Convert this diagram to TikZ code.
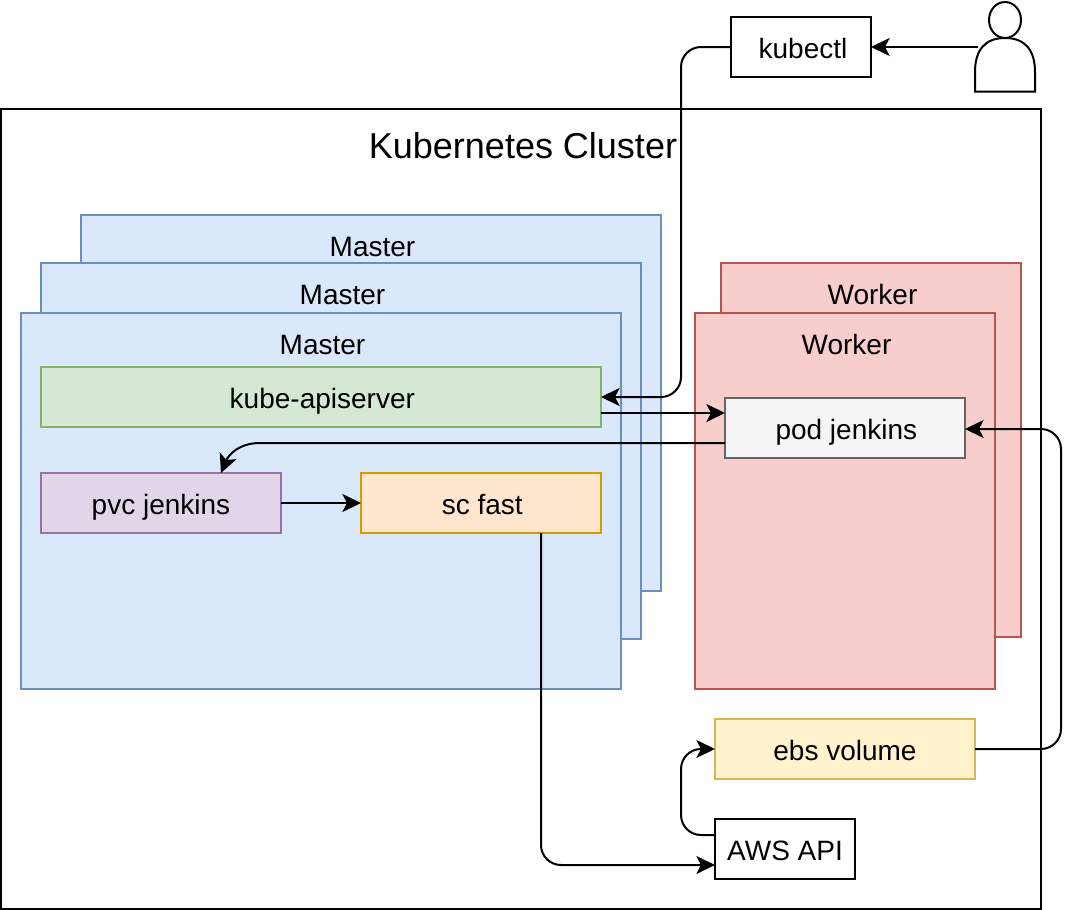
\documentclass[tikz,border=0pt]{standalone}
\usepackage{fontspec}
\setmainfont{Liberation Sans}
\usetikzlibrary{arrows.meta,calc,shapes.geometric}
\definecolor{blueF}{HTML}{DAE8FC}\definecolor{blueD}{HTML}{6C8EBF}
\definecolor{redF}{HTML}{F8CECC}\definecolor{redD}{HTML}{B85450}
\definecolor{greenF}{HTML}{D5E8D4}\definecolor{greenD}{HTML}{82B366}
\definecolor{purpF}{HTML}{E1D5E7}\definecolor{purpD}{HTML}{9673A6}
\definecolor{orF}{HTML}{FFE6CC}\definecolor{orD}{HTML}{D79B00}
\definecolor{yeF}{HTML}{FFF2CC}\definecolor{yeD}{HTML}{D6B656}
\definecolor{grF}{HTML}{F5F5F5}\definecolor{grD}{HTML}{666666}
\tikzset{
  box/.style 2 args={rectangle,inner sep=0pt,outer sep=0pt,line width=1.5pt,
    minimum width=#1*0.75pt,minimum height=#2*0.75pt,text height=17pt,text depth=0pt,
    font=\fontsize{21}{25}\selectfont},
  plain/.style={draw=black,fill=white},
  master/.style={draw=blueD,fill=blueF},
  worker/.style={draw=redD,fill=redF},
  greenbox/.style={draw=greenD,fill=greenF},
  purplebox/.style={draw=purpD,fill=purpF},
  orangebox/.style={draw=orD,fill=orF},
  yellowbox/.style={draw=yeD,fill=yeF},
  graybox/.style={draw=grD,fill=grF},
  title/.style={inner sep=0pt,text height=17pt,text depth=0pt,font=\fontsize{21}{25}\selectfont},
  tip/.style={-{Stealth[length=14pt,width=13.5pt,inset=3.5pt]}},
  conn/.style={draw=black,line width=1.5pt,rounded corners=15pt,tip},
}
\begin{document}
\begin{tikzpicture}[x=0.75pt,y=-0.75pt]
\useasboundingbox[fill=white] (0,0) rectangle (1078,910);
% cluster
\node[box={1040}{800},draw=black,fill=white] (cluster) at (521,509) {};
\node[inner sep=0pt,font=\fontsize{27}{32}\selectfont] (clusterT) at (523,146) {Kubernetes Cluster};
% masters
\node[box={580}{376},master] (m3) at (371,403) {};
\node[title] (m3T) at (372.5,245) {Master};
\node[box={600}{376},master] (m2) at (341,451) {};
\node[title] (m2T) at (342.5,293) {Master};
\node[box={600}{376},master] (m1) at (321,501) {};
\node[title] (m1T) at (322.5,343) {Master};
% workers
\node[box={300}{374},worker] (w2) at (871,450) {};
\node[title] (w2T) at (872.5,293) {Worker};
\node[box={300}{376},worker] (w1) at (845,501) {};
\node[title] (w1T) at (846.5,343) {Worker};
% components
\node[box={560}{60},greenbox] (kube) at (321,397) {\hspace*{2pt}kube-apiserver};
\node[box={240}{60},graybox] (pod) at (845,428) {\hspace*{2pt}pod jenkins};
\node[box={240}{60},purplebox] (pvc) at (161,503) {pvc jenkins};
\node[box={240}{60},orangebox] (sc) at (481,503) {\hspace*{2pt}sc fast};
\node[box={260}{60},yellowbox] (ebs) at (845,749) {ebs volume};
\node[box={140}{60},plain] (aws) at (785,849) {AWS API};
\node[box={140}{60},plain] (kubectl) at (801,47) {\hspace*{3pt}kubectl};
% user
\draw[line width=1.5pt,fill=white] (975,91.5) -- (975,72) .. controls (975,50) and (985,38) .. (1005,38) .. controls (1025,38) and (1035,50) .. (1035,72) -- (1035,91.5) -- cycle;
\node[draw=black,line width=1.5pt,fill=white,ellipse,minimum width=24pt,minimum height=27pt,inner sep=0pt] (head) at (1005,20) {};
\coordinate (userhand) at (978,47);
% routing points
\coordinate (busA) at (681,0);
\coordinate (busB) at (1061,0);
\coordinate (podIn) at ([yshift=11.25pt]pod.west);
\coordinate (podOut) at ([yshift=-11.25pt]pod.west);
\coordinate (podEast) at ([yshift=-0.75pt]pod.east);
\coordinate (pvcIn) at ([xshift=45pt]pvc.north);
\coordinate (scOut) at ([xshift=45pt]sc.south);
\coordinate (awsIn) at ([yshift=-12pt]aws.west);
\coordinate (awsOut) at ([yshift=10.5pt]aws.west);
% connectors
\draw[conn] (userhand) -- (kubectl.east);
\draw[conn] (kubectl.west) -| (busA |- kube.east) -- (kube.east);
\draw[conn] (kube.east |- podIn) -- (podIn);
\draw[draw=black,line width=1.5pt,tip] (podOut) -- (260,443) .. controls (238,443) and (228,456) .. (pvcIn);
\draw[conn] (pvc.east) -- (sc.west);
\draw[conn] (scOut) |- (awsIn);
\draw[conn] (awsOut) -| (busA |- ebs.west) -- (ebs.west);
\draw[conn] (ebs.east) -| (busB |- podEast) -- (podEast);
\end{tikzpicture}
\end{document}
